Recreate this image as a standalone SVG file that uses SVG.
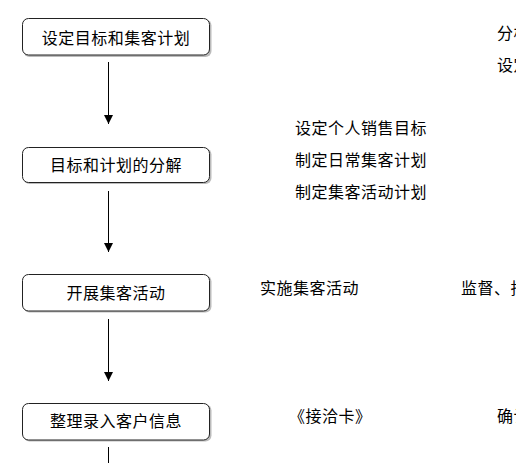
<svg xmlns="http://www.w3.org/2000/svg" width="516" height="463" viewBox="0 0 516 463">
<style>
text{font-family:"Noto Sans CJK SC","Noto Sans",sans-serif;font-size:16px;fill:#000;letter-spacing:0.5px}
.box{fill:#fff;stroke:#222;stroke-width:1}
.shadow{fill:#bbb}
.c{text-anchor:middle}
.conn{stroke:#000;stroke-width:1;fill:none}
</style>
<defs>
<marker id="ah" viewBox="0 0 10 10" refX="10" refY="5" markerWidth="9" markerHeight="9" markerUnits="userSpaceOnUse" orient="auto">
<path d="M0,0 L10,5 L0,10 Z" fill="#000"/>
</marker>
</defs>
<rect width="516" height="463" fill="#fff"/>
<g id="connectors">
<line class="conn" x1="108.5" y1="62" x2="108.5" y2="124" marker-end="url(#ah)"/>
<line class="conn" x1="108.5" y1="191" x2="108.5" y2="252" marker-end="url(#ah)"/>
<line class="conn" x1="108.5" y1="319" x2="108.5" y2="381" marker-end="url(#ah)"/>
<line class="conn" x1="108.5" y1="447" x2="108.5" y2="463"/>
</g>
<g id="node1">
<rect class="shadow" x="23.5" y="19.5" width="188" height="37.5" rx="6"/>
<rect class="box" x="22.5" y="18.5" width="187" height="36.5" rx="6"/>
<text class="c" x="116" y="44">设定目标和集客计划</text>
</g>
<g id="node2">
<rect class="shadow" x="23.5" y="148.5" width="188" height="35.5" rx="6"/>
<rect class="box" x="22.5" y="147.5" width="187" height="35" rx="6"/>
<text class="c" x="116" y="171">目标和计划的分解</text>
</g>
<g id="node3">
<rect class="shadow" x="23.5" y="275.5" width="188" height="37" rx="6"/>
<rect class="box" x="22.5" y="274.5" width="187" height="36.5" rx="6"/>
<text class="c" x="116" y="299">开展集客活动</text>
</g>
<g id="node4">
<rect class="shadow" x="23.5" y="404.5" width="188" height="37" rx="6"/>
<rect class="box" x="22.5" y="403.5" width="187" height="36.5" rx="6"/>
<text class="c" x="116" y="427">整理录入客户信息</text>
</g>
<g id="labels">
<text x="497" y="39">分析</text>
<text x="497" y="71">设定</text>
<text x="295" y="134">设定个人销售目标</text>
<text x="295" y="166">制定日常集客计划</text>
<text x="295" y="198">制定集客活动计划</text>
<text x="260" y="294">实施集客活动</text>
<text x="461" y="294">监督、指导</text>
<text x="289" y="422">《接洽卡》</text>
<text x="497" y="422">确认</text>
</g>
</svg>
